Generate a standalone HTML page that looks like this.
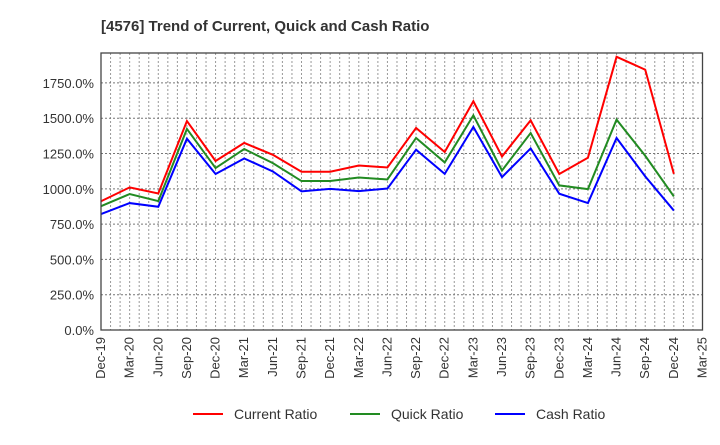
<!DOCTYPE html>
<html><head><meta charset="utf-8"><style>
body{margin:0;background:#fff;font-family:"Liberation Sans",sans-serif;}
</style></head><body>
<svg id="chart" width="720" height="440" xmlns="http://www.w3.org/2000/svg" font-family="Liberation Sans, sans-serif">
<text x="101" y="31" font-size="15" font-weight="bold" fill="#333">[4576]  Trend of Current, Quick and Cash Ratio</text>
<g id="grid"></g><g id="series"></g><g id="axes"></g>
<g>
<line x1="193" y1="414" x2="223" y2="414" stroke="#f00" stroke-width="2"/><text x="234" y="419" font-size="14" fill="#333">Current Ratio</text>
<line x1="350" y1="414" x2="380" y2="414" stroke="#228b22" stroke-width="2"/><text x="391" y="419" font-size="14" fill="#333">Quick Ratio</text>
<line x1="495" y1="414" x2="525" y2="414" stroke="#00f" stroke-width="2"/><text x="536" y="419" font-size="14" fill="#333">Cash Ratio</text>
</g>
</svg>
<script>
const xLabels=["Dec-19","Mar-20","Jun-20","Sep-20","Dec-20","Mar-21","Jun-21","Sep-21","Dec-21","Mar-22","Jun-22","Sep-22","Dec-22","Mar-23","Jun-23","Sep-23","Dec-23","Mar-24","Jun-24","Sep-24","Dec-24","Mar-25"];
const yTicks=[0,250,500,750,1000,1250,1500,1750];
const currentRatio=[912,1010,967,1480,1197,1325,1241,1121,1121,1165,1151,1431,1261,1620,1229,1485,1105,1220,1935,1844,1106];
const quickRatio=[877,963,913,1424,1147,1282,1182,1055,1055,1080,1066,1360,1187,1520,1130,1395,1024,998,1490,1234,946];
const cashRatio=[821,899,873,1355,1105,1215,1123,982,1000,984,1002,1277,1106,1438,1083,1286,965,899,1360,1088,846];
const L=101,R=702.5,T=53,B=330,YMAX=1962;
const NS="http://www.w3.org/2000/svg";
const xs=i=>L+(R-L)*i/21;
const ys=v=>B-(B-T)*v/YMAX;
function mk(tag,attrs,parent){const e=document.createElementNS(NS,tag);for(const k in attrs)e.setAttribute(k,attrs[k]);parent.appendChild(e);return e;}
const grid=document.getElementById('grid'),axes=document.getElementById('axes'),ser=document.getElementById('series');
for(let m=1;m<63;m++){const x=L+(R-L)*m/63;
const g=mk('line',{x1:x,x2:x,y1:T,y2:B,stroke:'#999','stroke-dasharray':'2,2','stroke-width':1},grid);

}
yTicks.forEach(v=>{const y=ys(v);
if(v>0){const g=mk('line',{x1:L,x2:R,y1:y,y2:y,stroke:'#777','stroke-dasharray':'2,2','stroke-width':1},grid);

}
const t=mk('text',{x:L-7,y:y+5,'text-anchor':'end','font-size':13,fill:'#333'},axes);
t.textContent=v.toFixed(1)+'%';

});
xLabels.forEach((s,i)=>{const x=xs(i);
const t=mk('text',{transform:`translate(${x+4},${B+7}) rotate(-90)`,'text-anchor':'end','font-size':13,fill:'#333'},axes);
t.textContent=s;

});
const fr=mk('rect',{x:L,y:T,width:R-L,height:B-T,fill:'none',stroke:'#444','stroke-width':1.3},axes);


[[currentRatio,'#f00','current-ratio-line'],[quickRatio,'#228b22','quick-ratio-line'],[cashRatio,'#00f','cash-ratio-line']].forEach(([d,c,n])=>{
const p=mk('polyline',{points:d.map((v,i)=>xs(i)+','+ys(v)).join(' '),fill:'none',stroke:c,'stroke-width':2},ser);

});
</script>
</body></html>
